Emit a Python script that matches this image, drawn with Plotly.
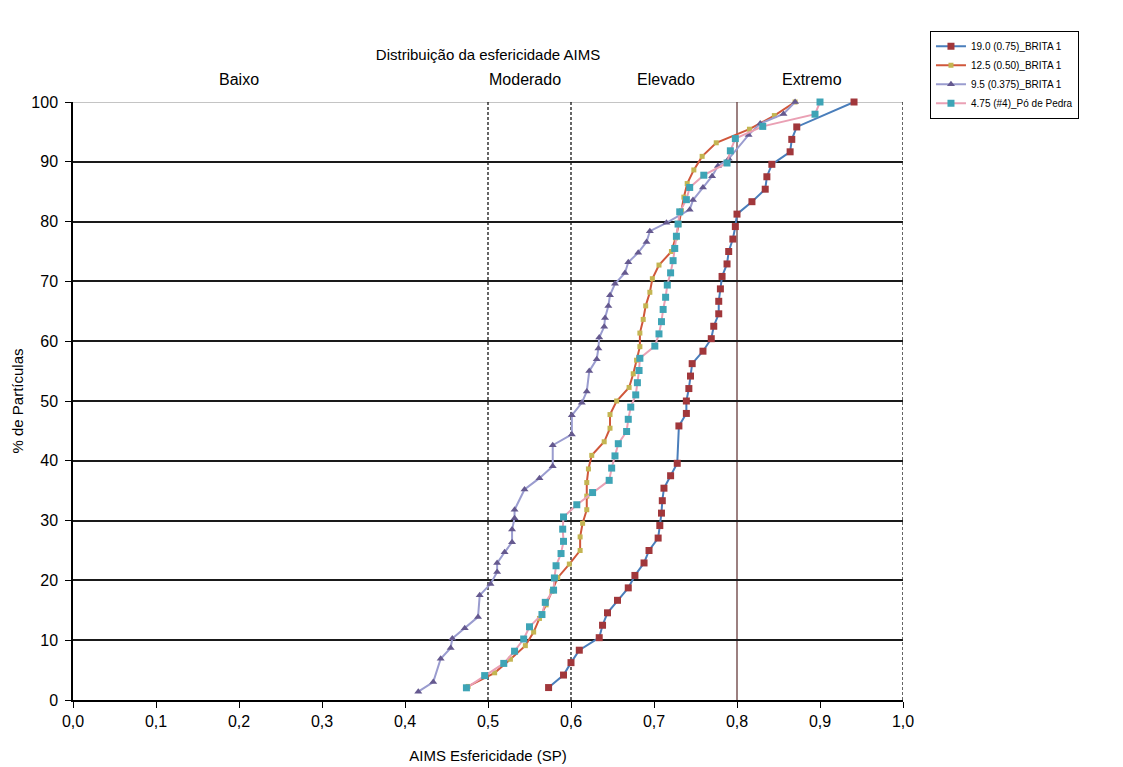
import plotly.graph_objects as go

# ---------------- data ----------------
s19_x = [0.573, 0.591, 0.600, 0.610, 0.634, 0.638, 0.644, 0.656, 0.669, 0.677, 0.688, 0.694, 0.705, 0.707, 0.709,
         0.710, 0.712, 0.720, 0.728, 0.730, 0.739, 0.739, 0.742, 0.744, 0.746, 0.759, 0.769, 0.772, 0.778, 0.778,
         0.780, 0.782, 0.788, 0.790, 0.795, 0.798, 0.800, 0.818, 0.834, 0.836, 0.842, 0.864, 0.866, 0.872, 0.941]
s19_y = [2.08, 4.17, 6.25, 8.33, 10.42, 12.50, 14.58, 16.67, 18.75, 20.83, 22.92, 25.00, 27.08, 29.17, 31.25,
         33.33, 35.42, 37.50, 39.58, 45.83, 47.92, 50.00, 52.08, 54.17, 56.25, 58.33, 60.42, 62.50, 64.58, 66.67,
         68.75, 70.83, 72.92, 75.00, 77.08, 79.17, 81.25, 83.33, 85.42, 87.50, 89.58, 91.67, 93.75, 95.83, 100.0]

s125_x = [0.476, 0.508, 0.527, 0.545, 0.555, 0.562, 0.570, 0.577, 0.584, 0.598, 0.611, 0.611, 0.614, 0.619, 0.619,
          0.619, 0.621, 0.625, 0.640, 0.647, 0.647, 0.655, 0.670, 0.675, 0.679, 0.683, 0.683, 0.687, 0.690, 0.695,
          0.698, 0.706, 0.721, 0.726, 0.730, 0.733, 0.736, 0.740, 0.748, 0.758, 0.775, 0.815, 0.845, 0.870]
s125_y = [2.27, 4.55, 6.82, 9.09, 11.36, 13.64, 15.91, 18.18, 20.45, 22.73, 25.00, 27.27, 29.55, 31.82, 34.09,
          36.36, 38.64, 40.91, 43.18, 45.45, 47.73, 50.00, 52.27, 54.55, 56.82, 59.09, 61.36, 63.64, 65.91, 68.18,
          70.45, 72.73, 75.00, 77.27, 79.55, 81.82, 84.09, 86.36, 88.64, 90.91, 93.18, 95.45, 97.73, 100.0]

s95_x = [0.416, 0.434, 0.443, 0.455, 0.457, 0.472, 0.488, 0.490, 0.503, 0.511, 0.511, 0.520, 0.529, 0.529, 0.532,
         0.532, 0.544, 0.562, 0.578, 0.578, 0.601, 0.601, 0.613, 0.619, 0.622, 0.631, 0.633, 0.634, 0.640, 0.641,
         0.645, 0.647, 0.653, 0.665, 0.669, 0.681, 0.691, 0.695, 0.715, 0.743, 0.747, 0.759, 0.770, 0.777, 0.790,
         0.814, 0.828, 0.856, 0.870]
s95_y = [1.4, 3.0, 6.9, 8.7, 10.3, 12.0, 13.9, 17.5, 19.4, 21.4, 22.9, 24.7, 26.4, 28.5, 30.4,
         31.8, 35.2, 37.1, 39.1, 42.6, 44.4, 47.6, 49.7, 51.6, 55.0, 57.0, 58.8, 60.6, 62.4, 63.9,
         65.9, 67.7, 69.6, 71.4, 73.2, 74.8, 76.6, 78.4, 79.8, 82.0, 83.6, 85.7, 87.6, 89.3, 90.5,
         94.5, 96.4, 98.0, 100.0]

s475_x = [0.474, 0.496, 0.519, 0.532, 0.543, 0.550, 0.565, 0.569, 0.579, 0.580, 0.582, 0.588, 0.591, 0.590, 0.591,
          0.607, 0.626, 0.646, 0.649, 0.653, 0.657, 0.667, 0.669, 0.672, 0.678, 0.680, 0.682, 0.683, 0.701, 0.706,
          0.709, 0.711, 0.714, 0.716, 0.720, 0.723, 0.725, 0.727, 0.729, 0.731, 0.739, 0.743, 0.760, 0.788, 0.792,
          0.798, 0.831, 0.894, 0.900]
s475_y = [2.04, 4.08, 6.12, 8.16, 10.20, 12.24, 14.29, 16.33, 18.37, 20.41, 22.45, 24.49, 26.53, 28.57, 30.61,
          32.65, 34.69, 36.73, 38.78, 40.82, 42.86, 44.90, 46.94, 48.98, 51.02, 53.06, 55.10, 57.14, 59.18, 61.22,
          63.27, 65.31, 67.35, 69.39, 71.43, 73.47, 75.51, 77.55, 79.59, 81.63, 83.67, 85.71, 87.76, 89.80, 91.84,
          93.88, 95.92, 97.96, 100.0]

series_names = ["19.0 (0.75)_BRITA 1", "12.5 (0.50)_BRITA 1", "9.5 (0.375)_BRITA 1", "4.75 (#4)_Pó de Pedra"]

zone_labels = ["Baixo", "Moderado", "Elevado", "Extremo"]
zone_label_x = [0.20, 0.545, 0.715, 0.89]
zone_limits = [0.5, 0.6, 0.8, 1.0]
zone_limit_dash = ["3px,2px", "3px,2px", "solid", "3px,2px"]

x_ticks = [0.0, 0.1, 0.2, 0.3, 0.4, 0.5, 0.6, 0.7, 0.8, 0.9, 1.0]
y_ticks = [0, 10, 20, 30, 40, 50, 60, 70, 80, 90, 100]

FONT = "Liberation Sans Narrow, Liberation Sans, Arial, sans-serif"

fig = go.Figure()

styles = [
    dict(line=dict(color="#4a7ebb", width=2), marker=dict(symbol="square", size=7, color="#a1373b")),
    dict(line=dict(color="#d0573b", width=2), marker=dict(symbol="square", size=5, color="#c4b552")),
    dict(line=dict(color="#9a9ccf", width=2), marker=dict(symbol="triangle-up", size=7, color="#65598f")),
    dict(line=dict(color="#eaa0b4", width=2), marker=dict(symbol="square", size=7, color="#3ea4b6")),
]
data = [(s19_x, s19_y), (s125_x, s125_y), (s95_x, s95_y), (s475_x, s475_y)]

for (xs, ys), name, st in zip(data, series_names, styles):
    fig.add_trace(go.Scatter(x=xs, y=ys, mode="lines+markers", name=name,
                             line=st["line"], marker=st["marker"], cliponaxis=False))

# top border of plot area (light grey)
fig.add_shape(type="line", xref="x", yref="y", x0=0, x1=1, y0=100, y1=100,
              line=dict(color="#8a8a8a", width=1.2), layer="below")

# zone boundaries
for xv, dash in zip(zone_limits, zone_limit_dash):
    fig.add_shape(type="line", xref="x", yref="y", x0=xv, x1=xv, y0=0, y1=100,
                  line=dict(color="#000000" if dash != "solid" else "#5a2c2c", width=1.2, dash=dash),
                  layer="below")

for txt, xv in zip(zone_labels, zone_label_x):
    fig.add_annotation(x=xv, xref="x", y=1.037, yref="paper", text=txt, showarrow=False,
                       font=dict(family=FONT, size=16, color="#000"), yanchor="middle")

fig.update_layout(
    width=1123, height=767,
    margin=dict(l=73, r=220, t=102, b=67),
    paper_bgcolor="white", plot_bgcolor="white",
    separators=",.",
    font=dict(family=FONT, size=15, color="#000"),
    title=dict(text="Distribuição da esfericidade AIMS", x=488 / 1123, xanchor="center",
               y=1 - 55 / 767, yanchor="middle", font=dict(family=FONT, size=15, color="#000")),
    xaxis=dict(range=[0, 1], tickvals=x_ticks, tickformat=".1f", showgrid=False, zeroline=False,
               showline=True, linecolor="#000", linewidth=1.5, ticks="outside", ticklen=6, tickcolor="#000",
               tickfont=dict(family=FONT, size=16), automargin=False,
               title=dict(text="AIMS Esfericidade (SP)", font=dict(family=FONT, size=15), standoff=22)),
    yaxis=dict(range=[0, 100], tickvals=y_ticks, showgrid=True, gridcolor="#1a1a1a", gridwidth=1.5,
               zeroline=False, showline=True, linecolor="#000", linewidth=1.5, ticks="outside", ticklen=6,
               tickcolor="#000", tickfont=dict(family=FONT, size=16), ticklabelstandoff=4, automargin=False,
               title=dict(text="% de Partículas", font=dict(family=FONT, size=15), standoff=4)),
    legend=dict(x=1.0325, xanchor="left", y=1.119, yanchor="top", bgcolor="white",
                bordercolor="#000", borderwidth=1, font=dict(family=FONT, size=10, color="#000"),
                tracegroupgap=0, itemwidth=30),
    showlegend=True,
)

fig.write_html("out.html")
